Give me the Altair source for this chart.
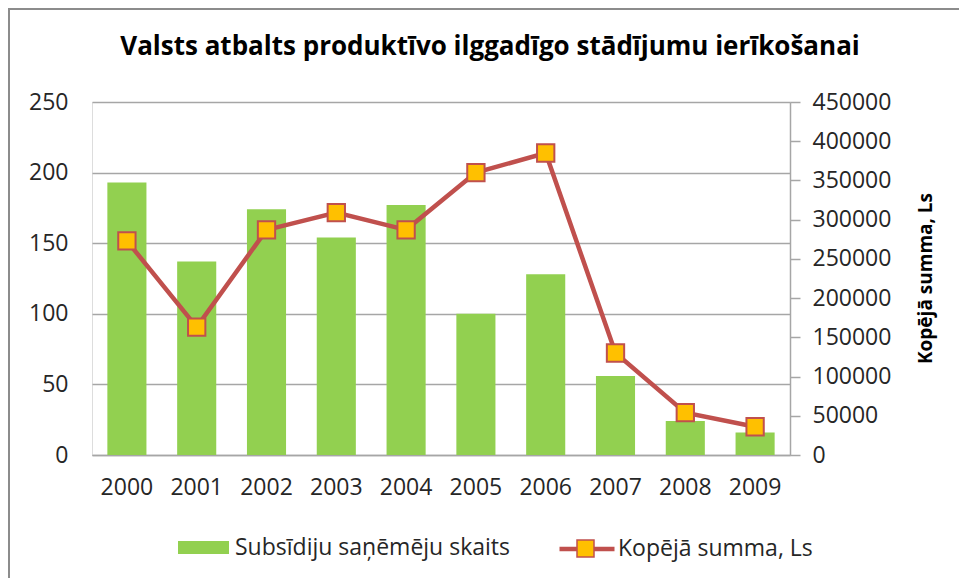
import altair as alt
import pandas as pd

years = ["2000", "2001", "2002", "2003", "2004", "2005", "2006", "2007", "2008", "2009"]
recipients = [193, 137, 174, 154, 177, 100, 128, 56, 24, 16]
total_sum = [273000, 163000, 287000, 309000, 287000, 360000, 385000, 130000, 54000, 36000]

bar_name = "Subsīdiju saņēmēju skaits"
line_name = "Kopējā summa, Ls"
marker_key = "marker"
title_text = "Valsts atbalts produktīvo ilggadīgo stādījumu ierīkošanai"

df = pd.DataFrame({
    "year": years,
    "recipients": recipients,
    "total": total_sum,
    "bar_series": [bar_name] * len(years),
    "line_series": [line_name] * len(years),
    "pt_series": [marker_key] * len(years),
})

FONT = "Open Sans"
TXT = "#262626"
GRID = "#A6A6A6"
GREEN = "#92D050"
RED = "#C0504D"
ORANGE = "#FFC000"
FS = 23

W, H = 698, 353

x_enc = alt.X("year:N", sort=years, title=None,
              scale=alt.Scale(paddingInner=0.44, paddingOuter=0.22),
              axis=alt.Axis(labelAngle=0, ticks=False, domainColor=GRID, domainWidth=1.5,
                            labelFont=FONT, labelFontSize=FS, labelColor=TXT, labelPadding=21))

frame = alt.Chart(pd.DataFrame({"a": [0]})).mark_rect(
    fill=None, stroke="#8C8C8C", strokeWidth=2, clip=False
).encode(x=alt.value(-83), x2=alt.value(900), y=alt.value(-93), y2=alt.value(520))

bars = alt.Chart(df).mark_bar(clip=False).encode(
    x=x_enc,
    y=alt.Y("recipients:Q", title=None,
            scale=alt.Scale(domain=[0, 250], nice=False),
            axis=alt.Axis(orient="left", values=[0, 50, 100, 150, 200, 250], grid=True,
                          gridColor=GRID, gridWidth=1.3, domain=False, ticks=False,
                          labelFont=FONT, labelFontSize=FS, labelColor=TXT, labelPadding=24)),
    color=alt.Color("bar_series:N", scale=alt.Scale(domain=[bar_name], range=[GREEN]),
                    legend=alt.Legend(title=None, orient="none", legendX=86, legendY=420,
                                      symbolType="M-1,-0.255H1V0.255H-1Z", symbolSize=2601,
                                      symbolStrokeWidth=0, labelFont=FONT, labelFontSize=FS,
                                      labelColor=TXT, labelOffset=6, padding=0,
                                      labelLimit=500)),
)

y2_scale = alt.Scale(domain=[0, 450000], nice=False)


def right_axis():
    return alt.Axis(orient="right", values=list(range(0, 450001, 50000)), grid=False,
                    domain=True, domainColor=GRID, domainWidth=1.5, ticks=True,
                    tickSize=10, tickColor=GRID, tickWidth=1.5, labelOverlap=False,
                    labelFont=FONT, labelFontSize=FS, labelColor=TXT, labelPadding=12,
                    format="d",
                    title=line_name, titleFont=FONT, titleFontSize=19, titleFontWeight="bold",
                    titleColor="#000000", titleAngle=270, titleX=135, titleY=176,
                    titleAlign="center", titleBaseline="middle")


line = alt.Chart(df).mark_line(strokeWidth=4.5).encode(
    x=alt.X("year:N", sort=years),
    y=alt.Y("total:Q", scale=y2_scale, axis=right_axis()),
    stroke=alt.Stroke("line_series:N", scale=alt.Scale(domain=[line_name], range=[RED]),
                      legend=alt.Legend(title=None, orient="none", legendX=465, legendY=417,
                                        symbolType="M-1,0H1", symbolSize=3025,
                                        symbolStrokeWidth=4.5, labelFont=FONT, labelFontSize=FS,
                                        labelColor=TXT, labelOffset=1, padding=0,
                                        labelLimit=500)),
)

points = alt.Chart(df).mark_point(shape="square", filled=True, size=300, stroke=RED,
                                  strokeWidth=2, opacity=1).encode(
    x=alt.X("year:N", sort=years),
    y=alt.Y("total:Q", scale=y2_scale, axis=right_axis()),
    fill=alt.Fill("pt_series:N", scale=alt.Scale(domain=[marker_key], range=[ORANGE]),
                  legend=alt.Legend(title=None, orient="none", legendX=484, legendY=437,
                                    symbolType="square", symbolSize=289,
                                    symbolStrokeColor=RED, symbolStrokeWidth=1.5,
                                    symbolFillColor=ORANGE, labelExpr="''",
                                    labelFontSize=1, padding=0)),
)

right_layer = alt.layer(line, points)

chart = alt.layer(frame, bars, right_layer).resolve_scale(
    y="independent", color="independent", fill="independent", stroke="independent"
).properties(
    width=W, height=H,
    title=alt.TitleParams(title_text, font=FONT, fontSize=26, fontWeight="bold",
                          color="#000000", anchor="middle", dx=49, offset=-73,
                          baseline="alphabetic"),
    autosize=alt.AutoSizeParams(type="none"),
    padding={"left": 92, "top": 102, "right": 169, "bottom": 123},
).configure_view(stroke=None).configure(background="white")

chart.save("out.html", embed_options={"renderer": "svg", "actions": False})
